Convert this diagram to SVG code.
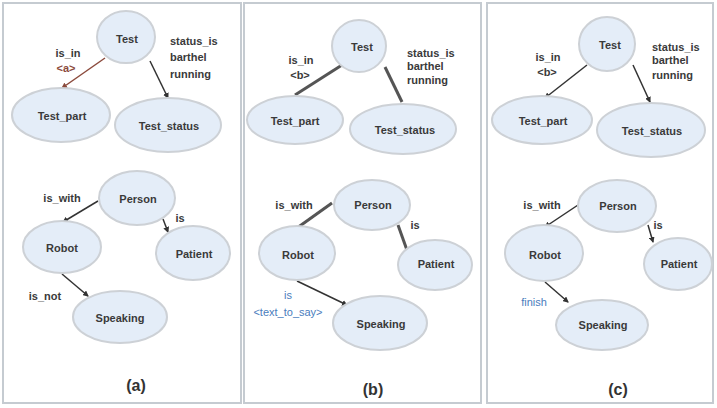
<svg xmlns="http://www.w3.org/2000/svg" width="717" height="408" viewBox="0 0 717 408">
<defs>
<marker id="ah" viewBox="0 0 6 6" refX="5" refY="3" markerWidth="4" markerHeight="4" orient="auto" markerUnits="strokeWidth"><path d="M0,0 L6,3 L0,6 z" fill="#333"/></marker>
<marker id="ahb" viewBox="0 0 6 6" refX="5" refY="3" markerWidth="4" markerHeight="4" orient="auto" markerUnits="strokeWidth"><path d="M0,0 L6,3 L0,6 z" fill="#8b4a3c"/></marker>
<style>
.frame{fill:#fff;stroke:#c5cbd1;stroke-width:2}
.node ellipse{fill:#e4edf8;stroke:#cdd1d6;stroke-width:2}
.node text,.lbl{font-family:"Liberation Sans",Arial,sans-serif;font-size:11px;font-weight:bold;fill:#3a3a3a}
.node text{text-anchor:middle;dominant-baseline:central}
.lbl{text-anchor:middle}
.ll{text-anchor:start}
.blue{fill:#4a7dbd;font-weight:normal}
.brown{fill:#8b4a3c}
.cap{font-family:"Liberation Sans",Arial,sans-serif;font-size:16px;font-weight:bold;fill:#333;text-anchor:middle}
.e{stroke:#333;stroke-width:1.5;fill:none;marker-end:url(#ah)}
.eb{stroke:#8b4a3c;stroke-width:1.5;fill:none;marker-end:url(#ahb)}
.et{stroke:#555;stroke-width:3;fill:none}
</style>
</defs>
<rect width="717" height="408" fill="#fff"/>
<rect class="frame" x="3" y="3" width="238" height="400"/>
<rect class="frame" x="244" y="3" width="237" height="400"/>
<rect class="frame" x="487" y="3" width="226" height="400"/>

<g id="connectors">
<line class="eb" x1="105" y1="58" x2="62" y2="88"/>
<line class="e" x1="150" y1="61" x2="168" y2="98"/>
<line class="e" x1="98" y1="201" x2="63" y2="222"/>
<line class="e" x1="163" y1="219" x2="168" y2="232"/>
<line class="e" x1="62" y1="274" x2="88" y2="296"/>

<line class="et" x1="342" y1="65" x2="295" y2="95"/>
<line class="et" x1="385" y1="67" x2="402" y2="102"/>
<line class="et" x1="332" y1="203" x2="297" y2="228"/>
<line class="et" x1="398" y1="225" x2="408" y2="253"/>
<line class="e" x1="297" y1="281" x2="347" y2="305"/>

<line class="e" x1="587" y1="65" x2="545" y2="98"/>
<line class="e" x1="633" y1="65" x2="650" y2="102"/>
<line class="e" x1="578" y1="205" x2="545" y2="227"/>
<line class="e" x1="648" y1="225" x2="653" y2="242"/>
<line class="e" x1="545" y1="282" x2="568" y2="302"/>
</g>

<g id="a-test" class="node"><ellipse cx="126" cy="37" rx="29" ry="26"/><text x="127" y="39">Test</text></g>
<g id="a-test-part" class="node"><ellipse cx="61" cy="115" rx="49" ry="27"/><text x="62" y="116">Test_part</text></g>
<g id="a-test-status" class="node"><ellipse cx="168" cy="125" rx="53" ry="27"/><text x="169" y="126">Test_status</text></g>
<g id="a-person" class="node"><ellipse cx="137" cy="198" rx="38" ry="27"/><text x="138" y="199">Person</text></g>
<g id="a-robot" class="node"><ellipse cx="62" cy="247" rx="39" ry="26"/><text x="62" y="248">Robot</text></g>
<g id="a-patient" class="node"><ellipse cx="193" cy="253" rx="37" ry="27"/><text x="194" y="254">Patient</text></g>
<g id="a-speaking" class="node"><ellipse cx="120" cy="317" rx="47" ry="26"/><text x="120" y="318">Speaking</text></g>

<g id="b-test" class="node"><ellipse cx="359" cy="46" rx="27" ry="26"/><text x="362" y="47">Test</text></g>
<g id="b-test-part" class="node"><ellipse cx="295" cy="120" rx="48" ry="24"/><text x="295" y="121">Test_part</text></g>
<g id="b-test-status" class="node"><ellipse cx="403" cy="129" rx="53" ry="25"/><text x="405" y="130">Test_status</text></g>
<g id="b-person" class="node"><ellipse cx="372" cy="205" rx="38" ry="25"/><text x="373" y="205">Person</text></g>
<g id="b-robot" class="node"><ellipse cx="297" cy="253" rx="38" ry="27"/><text x="298" y="255">Robot</text></g>
<g id="b-patient" class="node"><ellipse cx="435" cy="265" rx="37" ry="25"/><text x="436" y="264">Patient</text></g>
<g id="b-speaking" class="node"><ellipse cx="380" cy="323" rx="47" ry="27"/><text x="381" y="324">Speaking</text></g>

<g id="c-test" class="node"><ellipse cx="607" cy="44" rx="28" ry="27"/><text x="610" y="45">Test</text></g>
<g id="c-test-part" class="node"><ellipse cx="542" cy="120" rx="50" ry="24"/><text x="543" y="121">Test_part</text></g>
<g id="c-test-status" class="node"><ellipse cx="651" cy="130" rx="54" ry="27"/><text x="652" y="131">Test_status</text></g>
<g id="c-person" class="node"><ellipse cx="617" cy="206" rx="39" ry="26"/><text x="618" y="206">Person</text></g>
<g id="c-robot" class="node"><ellipse cx="544" cy="253" rx="39" ry="28"/><text x="545" y="255">Robot</text></g>
<g id="c-patient" class="node"><ellipse cx="678" cy="264" rx="34" ry="26"/><text x="679" y="264">Patient</text></g>
<g id="c-speaking" class="node"><ellipse cx="602" cy="325" rx="46" ry="25"/><text x="603" y="325">Speaking</text></g>

<g id="labels">
<text class="lbl" x="68" y="57">is_in</text>
<text class="lbl brown" x="66" y="72">&lt;a&gt;</text>
<text class="lbl ll" x="170" y="45">status_is</text>
<text class="lbl ll" x="170" y="61">barthel</text>
<text class="lbl ll" x="170" y="78">running</text>
<text class="lbl" x="62" y="202">is_with</text>
<text class="lbl" x="180" y="222">is</text>
<text class="lbl" x="45" y="300">is_not</text>
<text class="cap" x="136" y="391">(a)</text>

<text class="lbl" x="301" y="64">is_in</text>
<text class="lbl" x="300" y="79">&lt;b&gt;</text>
<text class="lbl ll" x="407" y="57">status_is</text>
<text class="lbl ll" x="407" y="70">barthel</text>
<text class="lbl ll" x="407" y="84">running</text>
<text class="lbl" x="294" y="209">is_with</text>
<text class="lbl" x="415" y="229">is</text>
<text class="lbl blue" x="288" y="299">is</text>
<text class="lbl blue" x="288" y="316">&lt;text_to_say&gt;</text>
<text class="cap" x="373" y="395">(b)</text>

<text class="lbl" x="548" y="61">is_in</text>
<text class="lbl" x="547" y="76">&lt;b&gt;</text>
<text class="lbl ll" x="652" y="51">status_is</text>
<text class="lbl ll" x="652" y="64">barthel</text>
<text class="lbl ll" x="652" y="79">running</text>
<text class="lbl" x="542" y="209">is_with</text>
<text class="lbl" x="658" y="229">is</text>
<text class="lbl blue" x="534" y="306">finish</text>
<text class="cap" x="618" y="395">(c)</text>
</g>
</svg>
